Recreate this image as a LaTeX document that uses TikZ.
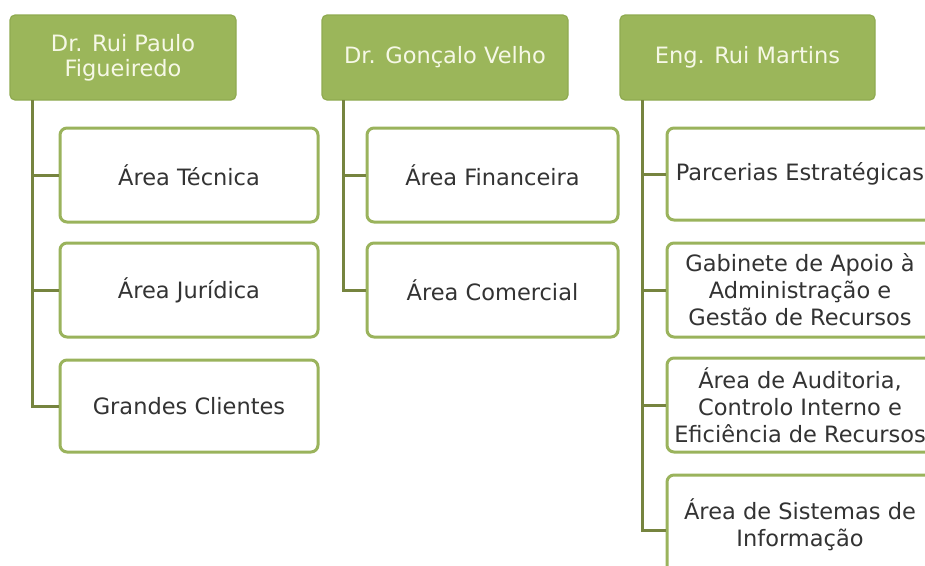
\documentclass[tikz,border=0pt]{standalone}
\usepackage{fontspec}
\setmainfont{DejaVu Sans}
\begin{document}
\begin{tikzpicture}[x=1pt,y=-1pt,
  head/.style={draw=headedge, fill=headfill, line width=1.2pt, rounded corners=5pt,
    text=headtext, align=center, font=\fontsize{22.5}{25}\selectfont, inner sep=0pt},
  unit/.style={draw=unitedge, fill=white, line width=3pt, rounded corners=7pt,
    text=unittext, align=center, font=\fontsize{22.5}{27}\selectfont, inner sep=0pt},
  link/.style={draw=linkcol, line width=3pt}]
\definecolor{headfill}{HTML}{9BB65A}
\definecolor{headedge}{HTML}{8FAA50}
\definecolor{headtext}{HTML}{F6F8E6}
\definecolor{unitedge}{HTML}{9AB35C}
\definecolor{unittext}{HTML}{333333}
\definecolor{linkcol}{HTML}{76843F}
\useasboundingbox (0,0) rectangle (925,565);
\clip (0,0) rectangle (925,565);

% heads
\node[head, minimum width=226pt, minimum height=85pt] (h1) at (123,57.5) {Dr. Rui Paulo\\Figueiredo};
\node[head, minimum width=246pt, minimum height=85pt] (h2) at (445,57.5) {Dr. Gonçalo Velho};
\node[head, minimum width=255pt, minimum height=85pt] (h3) at (747.5,57.5) {Eng. Rui Martins};

% first column
\node[unit, minimum width=258pt, minimum height=94pt] (a1) at (189,175) {Área Técnica};
\node[unit, minimum width=258pt, minimum height=94pt] (a2) at (189,290) {Área Jurídica};
\node[unit, minimum width=258pt, minimum height=92pt] (a3) at (189,406) {Grandes Clientes};

% second column
\node[unit, minimum width=251pt, minimum height=94pt] (b1) at (492.5,175) {Área Financeira};
\node[unit, minimum width=251pt, minimum height=94pt] (b2) at (492.5,290) {Área Comercial};

% third column
\node[unit, minimum width=266pt, minimum height=92pt] (c1) at (800,174) {Parcerias Estratégicas};
\node[unit, minimum width=266pt, minimum height=94pt] (c2) at (800,290) {Gabinete de Apoio à\\Administração e\\Gestão de Recursos};
\node[unit, minimum width=266pt, minimum height=94pt] (c3) at (800,405) {Área de Auditoria,\\Controlo Interno e\\Eficiência de Recursos};
\node[unit, minimum width=266pt, minimum height=100pt] (c4) at (800,525) {Área de Sistemas de\\Informação};

% connectors
\coordinate (t1) at (32,100);
\coordinate (t2) at (343,100);
\coordinate (t3) at (642,100);
\draw[link] (t1) |- (a1.west);
\draw[link] (t1) |- (a2.west);
\draw[link] (t1) |- (a3.west);
\draw[link] (t2) |- (b1.west);
\draw[link] (t2) |- (b2.west);
\draw[link] (t3) |- (c1.west);
\draw[link] (t3) |- (c2.west);
\draw[link] (t3) |- (c3.west);
\draw[link] (t3) |- ([yshift=-5pt]c4.west);
\end{tikzpicture}
\end{document}
